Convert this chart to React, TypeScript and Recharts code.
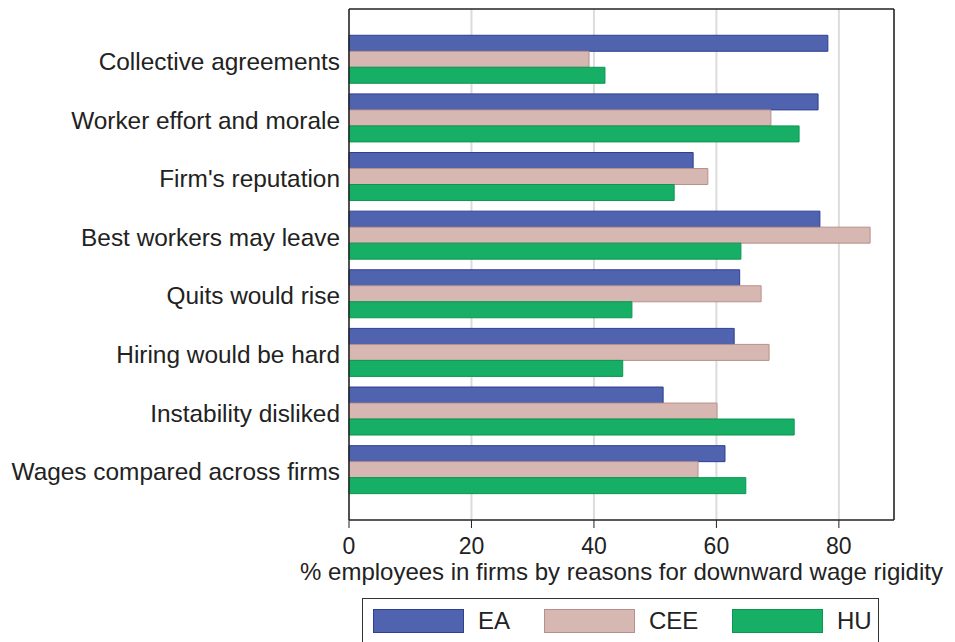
import {
  BarChart,
  Bar,
  XAxis,
  YAxis,
  CartesianGrid,
} from "recharts";

const reasons = [
  "Collective agreements",
  "Worker effort and morale",
  "Firm's reputation",
  "Best workers may leave",
  "Quits would rise",
  "Hiring would be hard",
  "Instability disliked",
  "Wages compared across firms",
];

const eaValues = [78.2, 76.6, 56.2, 76.9, 63.8, 62.9, 51.3, 61.4];
const ceeValues = [39.2, 68.9, 58.6, 85.1, 67.3, 68.6, 60.1, 57.0];
const huValues = [41.8, 73.5, 53.1, 64.0, 46.2, 44.7, 72.7, 64.8];

const xTicks = [0, 20, 40, 60, 80];
const xDomain = [0, 89];

const SERIES = [
  { key: "EA", fill: "#4f63ae", stroke: "#2e3f94" },
  { key: "CEE", fill: "#d6b7b2", stroke: "#b8908b" },
  { key: "HU", fill: "#17ae66", stroke: "#0b9652" },
];

const FONT = "'Liberation Sans', Arial, sans-serif";
const INK = "#222";

const data = reasons.map((r, i) => ({
  reason: r,
  EA: eaValues[i],
  CEE: ceeValues[i],
  HU: huValues[i],
}));

function Legend() {
  return (
    <div
      style={{
        position: "absolute",
        left: 362,
        top: 598,
        width: 517,
        height: 60,
        border: "1px solid #333",
        boxSizing: "border-box",
        fontFamily: FONT,
        fontSize: 24,
        color: INK,
      }}
    >
      {SERIES.map((s, i) => (
        <div
          key={s.key}
          style={{
            position: "absolute",
            left: [10, 181, 369][i],
            top: 10,
            display: "flex",
            alignItems: "center",
          }}
        >
          <div
            style={{
              width: 91,
              height: 24,
              background: s.fill,
              border: `1px solid ${s.stroke}`,
              boxSizing: "border-box",
            }}
          />
          <span style={{ marginLeft: 14, lineHeight: "24px" }}>{s.key}</span>
        </div>
      ))}
    </div>
  );
}

export default function App() {
  return (
    <div
      style={{
        position: "absolute",
        left: 0,
        top: 0,
        width: 955,
        height: 642,
        overflow: "hidden",
        background: "#fff",
      }}
    >
      <BarChart
        width={955}
        height={642}
        data={data}
        layout="vertical"
        margin={{ top: 8, right: 60, bottom: 82, left: 0 }}
        barCategoryGap="9%"
        barGap={0}
      >
        <CartesianGrid horizontal={false} stroke="#dcdcdc" strokeWidth={2} />
        <XAxis
          type="number"
          domain={xDomain}
          ticks={xTicks}
          height={40}
          axisLine={{ stroke: INK, strokeWidth: 1.5 }}
          tickLine={{ stroke: INK }}
          tickSize={8}
          tickMargin={10}
          tick={{ fontSize: 23, fill: INK, fontFamily: FONT }}
          label={{
            value: "% employees in firms by reasons for downward wage rigidity",
            position: "bottom",
            offset: 3,
            style: { fontSize: 24, fill: INK, fontFamily: FONT },
          }}
        />
        {/* top edge of the frame */}
        <XAxis
          xAxisId="top"
          type="number"
          orientation="top"
          domain={xDomain}
          height={1}
          tick={false}
          tickLine={false}
          axisLine={{ stroke: INK, strokeWidth: 1.5 }}
        />
        <YAxis
          type="category"
          dataKey="reason"
          width={349}
          padding={{ top: 21, bottom: 21 }}
          axisLine={{ stroke: INK, strokeWidth: 1.5 }}
          tickLine={false}
          tickSize={0}
          tickMargin={9}
          interval={0}
          tick={{ fontSize: 24.4, fill: INK, fontFamily: FONT, dy: 2 }}
        />
        {/* right edge of the frame */}
        <YAxis
          yAxisId="right"
          type="category"
          dataKey="reason"
          orientation="right"
          width={1}
          tick={false}
          tickLine={false}
          axisLine={{ stroke: INK, strokeWidth: 1.5 }}
        />
        {SERIES.map((s) => (
          <Bar
            key={s.key}
            dataKey={s.key}
            fill={s.fill}
            stroke={s.stroke}
            strokeWidth={1}
            isAnimationActive={false}
          />
        ))}
      </BarChart>
      <Legend />
    </div>
  );
}
